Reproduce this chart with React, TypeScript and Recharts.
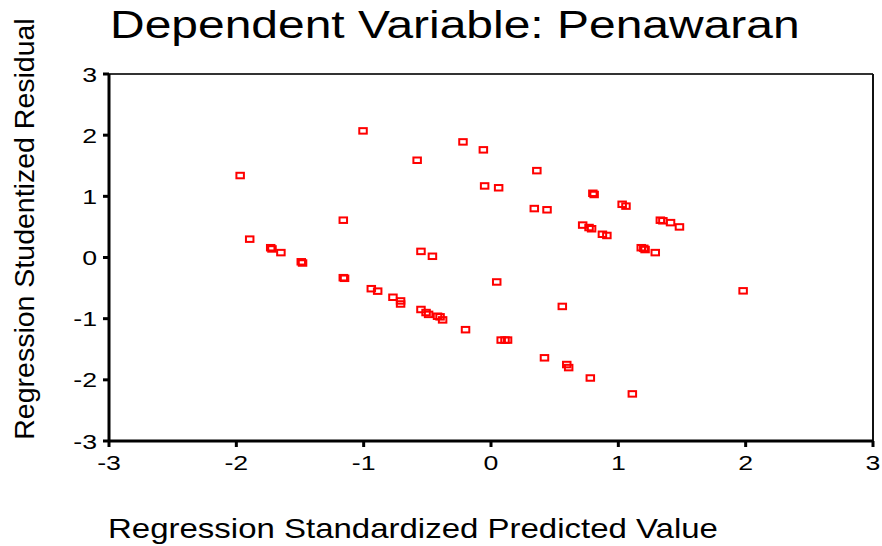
import React from "react";
import { ScatterChart, Scatter, XAxis, YAxis, ReferenceLine } from "recharts";

// regression standardized predicted value
const predicted = [
  -1.97, -1.005, -0.58, -0.22, -0.06, -0.05, 0.06, 0.36, 0.34, 0.44,
  0.8, 0.81, 1.03, 1.06, 0.72, 0.77, 0.79, 0.875, 0.91, 1.33,
  1.35, 1.41, 1.48, 1.18, 1.2, 1.21, 1.29, -1.16, -1.895, -1.73,
  -1.72, -1.65, -0.55, -0.46, -1.49, -1.48, -1.16, -1.15, -0.94, -0.89,
  -0.77, -0.71, -0.71, -0.55, -0.51, -0.49, -0.42, -0.4, -0.38, -0.2,
  0.045, 0.56, 1.98, 0.08, 0.11, 0.13, 0.42, 0.595, 0.61, 0.78, 1.11,
];

// regression studentized residual
const residual = [
  1.34, 2.07, 1.59, 1.89, 1.76, 1.17, 1.14, 1.42, 0.8, 0.78,
  1.05, 1.03, 0.87, 0.84, 0.53, 0.49, 0.47, 0.38, 0.36, 0.61,
  0.6, 0.57, 0.5, 0.16, 0.15, 0.13, 0.08, 0.61, 0.3, 0.16,
  0.14, 0.08, 0.1, 0.02, -0.07, -0.09, -0.33, -0.34, -0.51, -0.55,
  -0.65, -0.71, -0.76, -0.85, -0.9, -0.93, -0.96, -0.97, -1.02, -1.18,
  -0.4, -0.8, -0.545, -1.35, -1.35, -1.35, -1.64, -1.75, -1.8, -1.97, -2.23,
];

const xTicks = [-3, -2, -1, 0, 1, 2, 3];
const yTicks = [-3, -2, -1, 0, 1, 2, 3];

const points = predicted.map((x, i) => ({ x, y: residual[i] }));

const font = "'Liberation Sans', Arial, sans-serif";

const Box = (props: any) => {
  const { cx, cy } = props;
  return (
    <rect x={cx - 3.75} y={cy - 2.75} width={7.5} height={5.5} fill="none" stroke="#ff0000" strokeWidth={2} />
  );
};

const XTick = ({ x, y, payload }: any) => (
  <text
    transform={`translate(${x},${y + 21}) scale(1.27,1)`}
    textAnchor="middle"
    fontSize={21}
    fontFamily={font}
    fill="#000"
  >
    {payload.value}
  </text>
);

const YTick = ({ x, y, payload }: any) => (
  <text
    transform={`translate(${x},${y + 7.5}) scale(1.27,1)`}
    textAnchor="end"
    fontSize={21}
    fontFamily={font}
    fill="#000"
  >
    {payload.value}
  </text>
);

export default function App() {
  return (
    <div style={{ position: "absolute", left: 0, top: 0, width: 882, height: 546, background: "#fff", fontFamily: font }}>
      <div
        style={{
          position: "absolute",
          left: 109.5,
          top: 5.5,
          fontSize: 38,
          lineHeight: "38px",
          whiteSpace: "nowrap",
          transform: "scaleX(1.262)",
          transformOrigin: "left top",
        }}
      >
        Dependent Variable: Penawaran
      </div>
      <ScatterChart width={882} height={546} margin={{ top: 74, right: 9, bottom: 65, left: 49 }}>
        <XAxis
          type="number"
          dataKey="x"
          domain={[-3, 3]}
          ticks={xTicks}
          height={40}
          axisLine={{ stroke: "#000", strokeWidth: 3 }}
          tickLine={{ stroke: "#000", strokeWidth: 3 }}
          tickSize={6}
          tickMargin={2}
          tick={<XTick />}
        />
        <YAxis
          type="number"
          dataKey="y"
          domain={[-3, 3]}
          ticks={yTicks}
          width={60}
          axisLine={{ stroke: "#000", strokeWidth: 3 }}
          tickLine={{ stroke: "#000", strokeWidth: 3 }}
          tickSize={6}
          tickMargin={6}
          tick={<YTick />}
        />
        <ReferenceLine y={3} stroke="#333" strokeWidth={2} />
        <ReferenceLine x={3} stroke="#111" strokeWidth={2} />
        <Scatter data={points} shape={(p: any) => <Box {...p} />} isAnimationActive={false} />
      </ScatterChart>
      <div
        style={{
          position: "absolute",
          left: 108,
          top: 515,
          fontSize: 28,
          lineHeight: "28px",
          whiteSpace: "nowrap",
          transform: "scaleX(1.178)",
          transformOrigin: "left top",
        }}
      >
        Regression Standardized Predicted Value
      </div>
      <div
        style={{
          position: "absolute",
          left: 24 - 230,
          top: 229 - 14,
          width: 460,
          height: 28,
          fontSize: 28.5,
          lineHeight: "28px",
          textAlign: "center",
          whiteSpace: "nowrap",
          transform: "rotate(-90deg)",
          transformOrigin: "center center",
        }}
      >
        Regression Studentized Residual
      </div>
    </div>
  );
}
